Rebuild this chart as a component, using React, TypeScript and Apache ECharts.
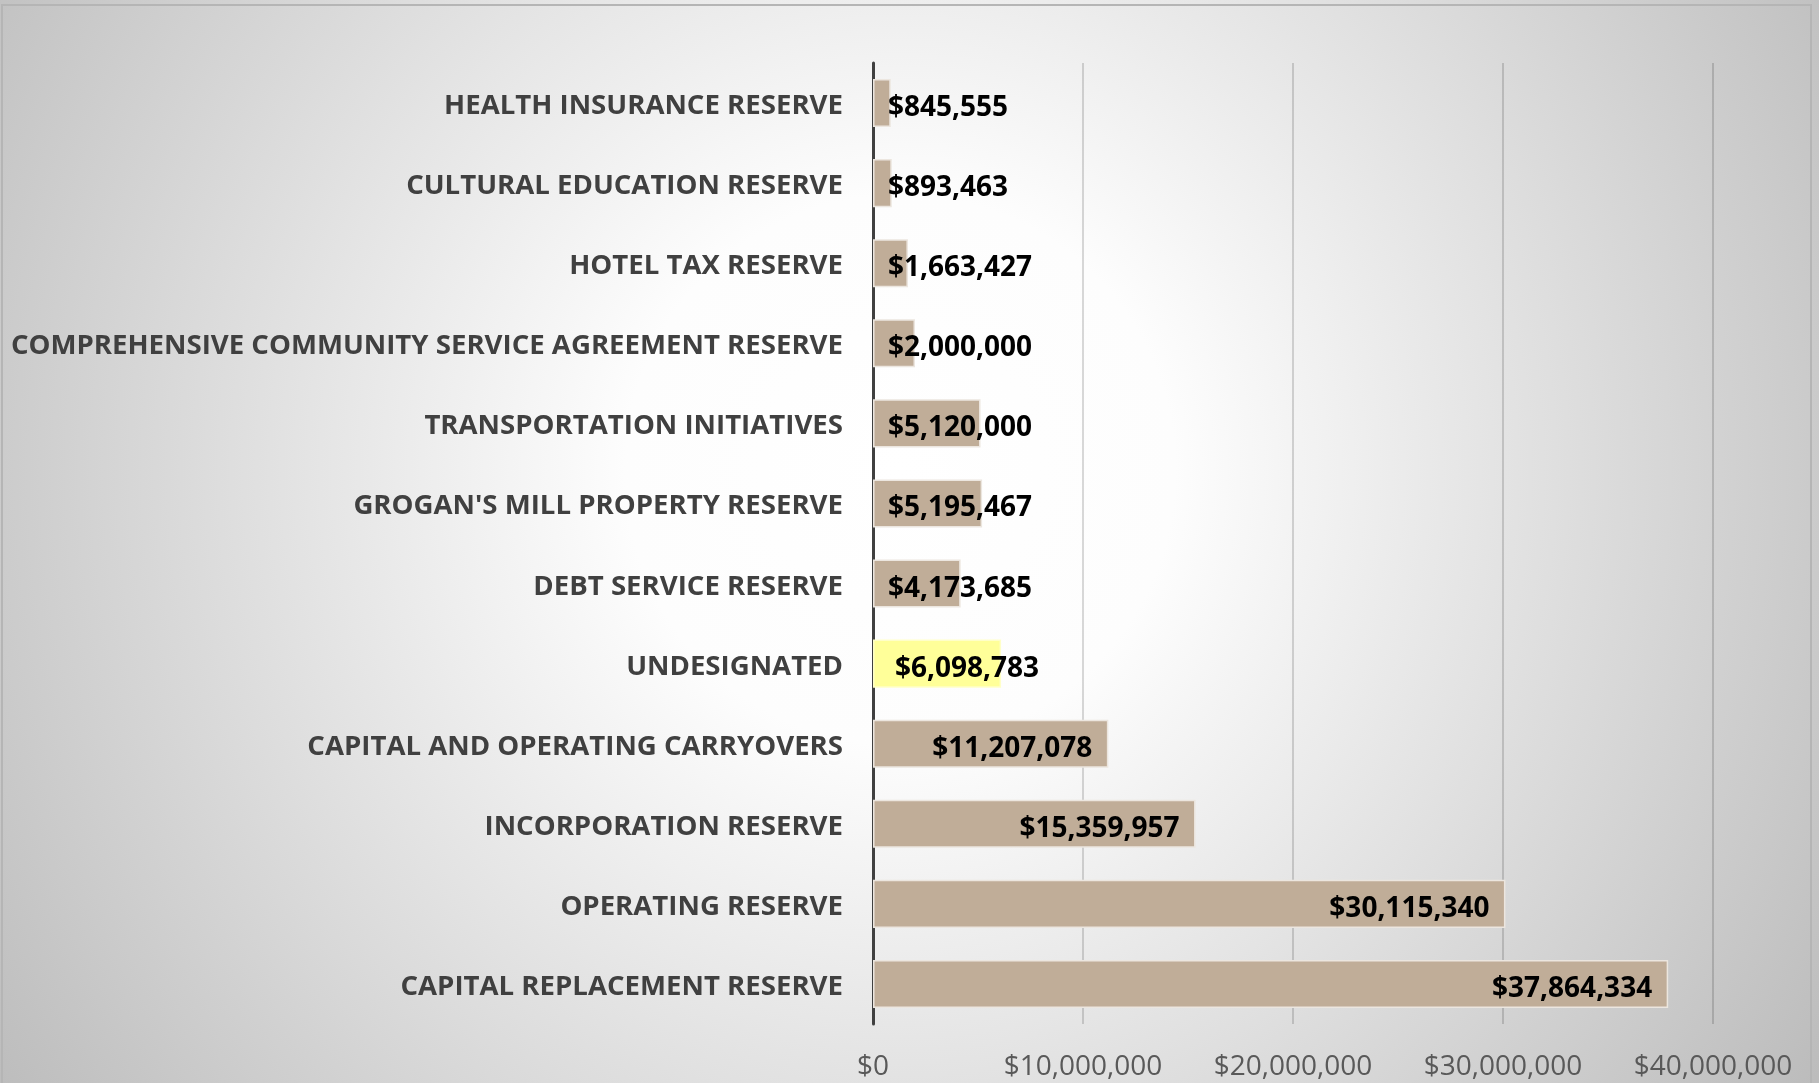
import React, { useEffect, useRef } from "react";
import * as echarts from "echarts";

const categories: string[] = [
  "HEALTH INSURANCE RESERVE",
  "CULTURAL EDUCATION RESERVE",
  "HOTEL TAX RESERVE",
  "COMPREHENSIVE COMMUNITY SERVICE AGREEMENT RESERVE",
  "TRANSPORTATION INITIATIVES",
  "GROGAN'S MILL PROPERTY RESERVE",
  "DEBT SERVICE RESERVE",
  "UNDESIGNATED",
  "CAPITAL AND OPERATING CARRYOVERS",
  "INCORPORATION RESERVE",
  "OPERATING RESERVE",
  "CAPITAL REPLACEMENT RESERVE",
];

const values: number[] = [
  845555, 893463, 1663427, 2000000, 5120000, 5195467, 4173685, 6098783,
  11207078, 15359957, 30115340, 37864334,
];

const xTicks: number[] = [0, 10000000, 20000000, 30000000, 40000000];

const highlightCategory = "UNDESIGNATED";

const money = (v: number) => "$" + Math.round(v).toLocaleString("en-US");

const FONT = "'Open Sans', sans-serif";

export default function App() {
  const ref = useRef<HTMLDivElement>(null);

  useEffect(() => {
    if (!ref.current) return;
    const chart = echarts.init(ref.current, undefined, { renderer: "svg" });

    const barData = values.map((v, i) => {
      const isHi = categories[i] === highlightCategory;
      const small = v < 10000000;
      return {
        value: v,
        itemStyle: isHi ? { color: "#ffff99", borderColor: "#ffffc8" } : undefined,
        label: {
          position: small ? "insideLeft" : "insideRight",
          distance: small ? (isHi ? 22 : 15) : 16,
        },
      };
    });

    chart.setOption({
      animation: false,
      backgroundColor: {
        type: "radial",
        x: 900,
        y: 470,
        r: 1100,
        global: true,
        colorStops: [
          { offset: 0, color: "#ffffff" },
          { offset: 0.25, color: "#fdfdfd" },
          { offset: 1, color: "#bcbcbc" },
        ],
      },
      graphic: [
        {
          type: "rect",
          shape: { x: 2, y: 5, width: 1809, height: 1100 },
          style: { fill: "none", stroke: "#b5b5b5", lineWidth: 2 },
          silent: true,
        },
      ],
      grid: {
        left: 873,
        right: 106,
        top: 63,
        bottom: 59,
        containLabel: false,
        outerBoundsMode: "none",
      },
      xAxis: {
        type: "value",
        min: xTicks[0],
        max: xTicks[xTicks.length - 1],
        interval: xTicks[1] - xTicks[0],
        axisLine: { show: false },
        axisTick: { show: false },
        splitLine: { show: true, lineStyle: { color: "rgba(0,0,0,0.2)", width: 1.5 } },
        axisLabel: {
          formatter: (v: number) => money(v),
          color: "#595959",
          fontSize: 28,
          fontFamily: FONT,
          margin: 26,
        },
      },
      yAxis: {
        type: "category",
        inverse: true,
        data: categories,
        axisLine: { show: true, lineStyle: { color: "#404040", width: 3 } },
        axisTick: { show: false },
        axisLabel: {
          color: "#404040",
          fontWeight: "bold",
          fontSize: 27.6,
          fontFamily: FONT,
          margin: 30,
        },
      },
      series: [
        {
          type: "bar",
          data: barData,
          barWidth: "60%",
          itemStyle: { color: "#c0ad98", borderColor: "#ece6df", borderWidth: 1.5 },
          label: {
            show: true,
            formatter: (p: any) => money(p.value),
            color: "#000000",
            fontWeight: "bold",
            fontSize: 28,
            fontFamily: FONT,
            offset: [0, 2],
          },
        },
      ],
    });

    return () => chart.dispose();
  }, []);

  return (
    <div
      ref={ref}
      style={{ position: "fixed", left: 0, top: 0, width: 1819, height: 1083 }}
    />
  );
}
